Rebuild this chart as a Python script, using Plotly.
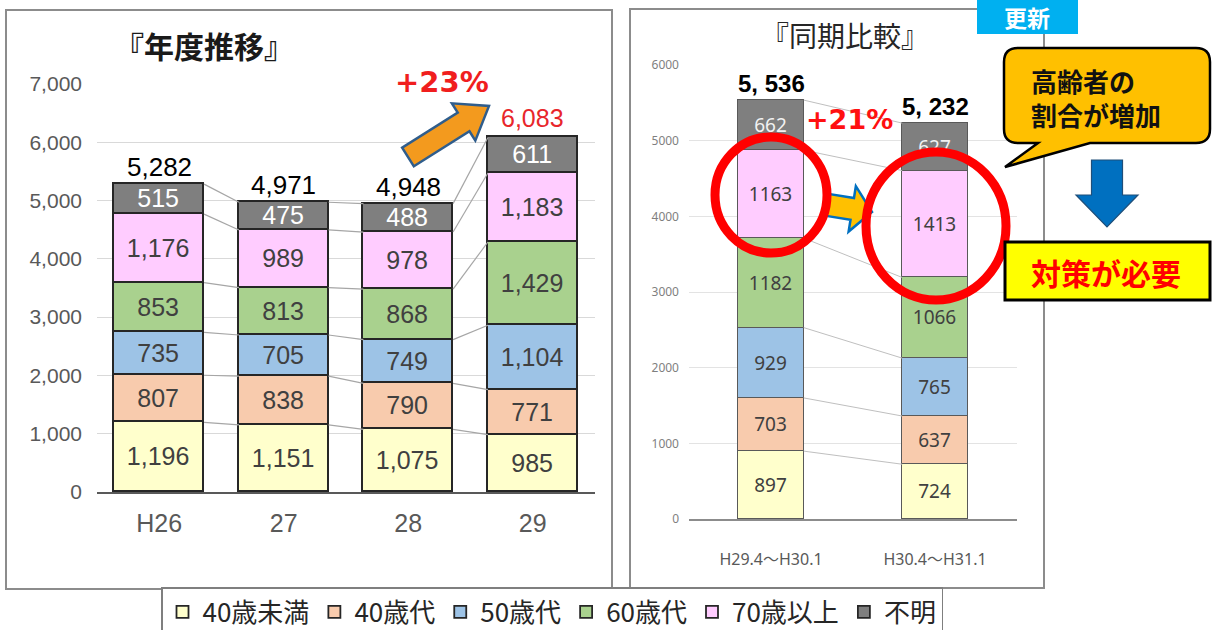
import math
import numpy as np
import plotly.graph_objects as go

W, H = 1215, 630

# ---------------- data ----------------
groups = ["40歳未満", "40歳代", "50歳代", "60歳代", "70歳以上", "不明"]
colors = ["#ffffcc", "#f8cbad", "#9dc3e6", "#a9d18e", "#ffccff", "#7f7f7f"]

years = ["H26", "27", "28", "29"]
y_u40 = [1196, 1151, 1075, 985]
y_40s = [807, 838, 790, 771]
y_50s = [735, 705, 749, 1104]
y_60s = [853, 813, 868, 1429]
y_70p = [1176, 989, 978, 1183]
y_unk = [515, 475, 488, 611]

periods = ["H29.4～H30.1", "H30.4～H31.1"]
p_u40 = [897, 724]
p_40s = [703, 637]
p_50s = [929, 765]
p_60s = [1182, 1066]
p_70p = [1163, 1413]
p_unk = [662, 627]

left_ticks = [0, 1000, 2000, 3000, 4000, 5000, 6000, 7000]
right_ticks = [0, 1000, 2000, 3000, 4000, 5000, 6000]

left_series = [y_u40, y_40s, y_50s, y_60s, y_70p, y_unk]
right_series = [p_u40, p_40s, p_50s, p_60s, p_70p, p_unk]

NUM = "Liberation Sans, Arial, sans-serif"
NARROW = "Liberation Sans Narrow, Liberation Sans, Arial, sans-serif"
JP = "Noto Sans CJK JP, sans-serif"


def px(x):
    return x / W


def py(y):
    return 1 - y / H


fig = go.Figure()

# ---------------- left chart: yearly ----------------
LW = 0.72
for name, col, vals in zip(groups, colors, left_series):
    fig.add_trace(go.Bar(
        x=list(range(len(years))), y=vals, name=name, width=LW,
        marker=dict(color=col, line=dict(color="#262626", width=1.8)),
        texttemplate="%{y:,}", textposition="inside", insidetextanchor="middle",
        constraintext="none", textangle=0,
        insidetextfont=dict(family=NUM, size=25,
                            color="#ffffff" if name == "不明" else "#404040"),
        xaxis="x", yaxis="y", legendgroup=name, showlegend=True,
        hoverinfo="skip",
    ))

cum_left = np.cumsum(np.array(left_series), axis=0)
cx, cy = [], []
for i in range(len(years) - 1):
    for k in range(cum_left.shape[0]):
        cx += [i + LW / 2, i + 1 - LW / 2, None]
        cy += [cum_left[k, i], cum_left[k, i + 1], None]
fig.add_trace(go.Scatter(x=cx, y=cy, mode="lines", line=dict(color="#a6a6a6", width=1.2),
                         xaxis="x", yaxis="y", showlegend=False, hoverinfo="skip"))

# ---------------- right chart: same period ----------------
RW = 0.4
for name, col, vals in zip(groups, colors, right_series):
    fig.add_trace(go.Bar(
        x=list(range(len(periods))), y=vals, name=name, width=RW,
        marker=dict(color=col, line=dict(color="#595959", width=1)),
        texttemplate="%{y}", textposition="inside", insidetextanchor="middle",
        constraintext="none", textangle=0,
        insidetextfont=dict(family="Noto Sans, sans-serif", size=19,
                            color="#f2f2f2" if name == "不明" else "#404040"),
        xaxis="x2", yaxis="y2", legendgroup=name, showlegend=False,
        hoverinfo="skip",
    ))

cum_right = np.cumsum(np.array(right_series), axis=0)
rx, ry = [], []
for i in range(len(periods) - 1):
    for k in range(cum_right.shape[0]):
        rx += [i + RW / 2, i + 1 - RW / 2, None]
        ry += [cum_right[k, i], cum_right[k, i + 1], None]
fig.add_trace(go.Scatter(x=rx, y=ry, mode="lines", line=dict(color="#bfbfbf", width=1),
                         xaxis="x2", yaxis="y2", showlegend=False, hoverinfo="skip"))

annotations = []
# totals left
left_tot = cum_left[-1]
for i, t in enumerate(left_tot):
    last = i == len(left_tot) - 1
    annotations.append(dict(
        x=i, y=int(t), xref="x", yref="y", text=f"{int(t):,}", showarrow=False,
        xanchor="center", yanchor="bottom", yshift=0 if not last else 3,
        font=dict(family=NUM, size=26 if not last else 25,
                  color="#e8262b" if last else "#000000")))
# totals right
right_tot = cum_right[-1]
for i, t in enumerate(right_tot):
    annotations.append(dict(
        x=i, y=int(t), xref="x2", yref="y2",
        text="<b>" + f"{int(t):,}".replace(",", ", ") + "</b>", showarrow=False,
        xanchor="center", yanchor="bottom", yshift=1,
        font=dict(family=NARROW, size=24, color="#000000")))


def note(x, y, text, size, color, family=JP, xanchor="center", align="center"):
    return dict(x=px(x), y=py(y), xref="paper", yref="paper", text=text, showarrow=False,
                xanchor=xanchor, yanchor="middle", align=align,
                font=dict(family=family, size=size, color=color))


annotations += [
    note(204, 45, "<b>『年度推移』</b>", 30, "#1a1a1a"),
    note(845, 35, "『同期比較』", 28, "#262626"),
    note(442, 82, "<b>+23%</b>", 29, "#f01e1e", family="DejaVu Sans, sans-serif"),
    note(849, 119, "<b>+21%</b>", 27, "#ff1010", family="DejaVu Sans, sans-serif"),
    note(1027, 17, "<b>更新</b>", 23, "#ffffff"),
    note(1029, 97, "<b>高齢者の<br>割合が増加</b>", 26, "#111111", xanchor="left", align="left"),
    note(1106, 272, "<b>対策が必要</b>", 30, "#ff0000"),
]


def arrow_path(x0, y0, x1, y1, sw, hw, hl):
    dx, dy = x1 - x0, y1 - y0
    L = math.hypot(dx, dy)
    ux, uy = dx / L, dy / L
    nx, ny = -uy, ux
    bx, by = x1 - ux * hl, y1 - uy * hl
    pts = [(x0 + nx * sw, y0 + ny * sw), (bx + nx * sw, by + ny * sw),
           (bx + nx * hw, by + ny * hw), (x1, y1),
           (bx - nx * hw, by - ny * hw), (bx - nx * sw, by - ny * sw),
           (x0 - nx * sw, y0 - ny * sw)]
    return "M " + " L ".join(f"{px(a):.5f},{py(b):.5f}" for a, b in pts) + " Z"


def P(x, y):
    return f"{px(x):.5f},{py(y):.5f}"


bubble = ("M " + P(1018, 48) + " L " + P(1196, 48) + " Q " + P(1210, 48) + " " + P(1210, 62) +
          " L " + P(1210, 129) + " Q " + P(1210, 143) + " " + P(1196, 143) +
          " L " + P(1090, 143) + " L " + P(1005, 167) + " L " + P(1038, 143) +
          " L " + P(1018, 143) + " Q " + P(1004, 143) + " " + P(1004, 129) +
          " L " + P(1004, 62) + " Q " + P(1004, 48) + " " + P(1018, 48) + " Z")

shapes = [
    # panel frames
    dict(type="rect", xref="paper", yref="paper", x0=px(6), x1=px(612), y0=py(589), y1=py(10),
         line=dict(color="#8c8c8c", width=2), layer="below"),
    dict(type="rect", xref="paper", yref="paper", x0=px(630), x1=px(1044), y0=py(588), y1=py(9),
         line=dict(color="#8c8c8c", width=2), layer="below"),
    # orange trend arrow
    dict(type="path", xref="paper", yref="paper", path=arrow_path(408, 157, 489, 106, 11, 22, 30),
         fillcolor="#f39a1e", line=dict(color="#2f5d8c", width=2.5)),
    # small arrow between circles
    dict(type="path", xref="paper", yref="paper", path=arrow_path(828, 205, 872, 212, 11, 23, 20),
         fillcolor="#ffc000", line=dict(color="#0070c0", width=2.5)),
    # red circles
    dict(type="circle", xref="paper", yref="paper", x0=px(771 - 56), x1=px(771 + 56),
         y0=py(195 + 58), y1=py(195 - 58), line=dict(color="#ff0000", width=9)),
    dict(type="circle", xref="paper", yref="paper", x0=px(936 - 70), x1=px(936 + 70),
         y0=py(226 + 74), y1=py(226 - 74), line=dict(color="#ff0000", width=9)),
    # update badge
    dict(type="rect", xref="paper", yref="paper", x0=px(977), x1=px(1078), y0=py(34), y1=py(0),
         fillcolor="#00b0f0", line=dict(width=0)),
    # speech bubble
    dict(type="path", xref="paper", yref="paper", path=bubble,
         fillcolor="#ffc000", line=dict(color="#000000", width=2.5)),
    # blue down arrow
    dict(type="path", xref="paper", yref="paper", path=arrow_path(1107, 160, 1107, 227, 15.5, 31, 32),
         fillcolor="#0070c0", line=dict(color="#1f4e79", width=1.2)),
    # yellow box
    dict(type="rect", xref="paper", yref="paper", x0=px(1005), x1=px(1210), y0=py(300), y1=py(242),
         fillcolor="#ffff00", line=dict(color="#000000", width=3)),
]

fig.update_layout(
    width=W, height=H, margin=dict(l=0, r=0, t=0, b=0, autoexpand=False),
    paper_bgcolor="white", plot_bgcolor="white",
    barmode="stack", bargap=0,
    xaxis=dict(domain=[px(97), px(595)], range=[-0.5, 3.5], tickvals=list(range(len(years))),
               ticktext=years, showgrid=False, zeroline=False, showline=True,
               linecolor="#595959", linewidth=2, ticks="", ticklabelstandoff=8,
               tickfont=dict(family=NARROW, size=25, color="#595959"), fixedrange=True),
    yaxis=dict(domain=[py(492), py(84)], range=[0, 7000], tickvals=left_ticks,
               tickformat=",", showgrid=True, gridcolor="#d9d9d9", gridwidth=1,
               zeroline=False, showline=False, ticks="", ticklabelstandoff=14,
               tickfont=dict(family=NARROW, size=21, color="#595959"), fixedrange=True),
    xaxis2=dict(domain=[px(689), px(1017)], range=[-0.5, 1.5], tickvals=list(range(len(periods))),
                ticktext=periods, showgrid=False, zeroline=False, showline=True,
                linecolor="#8c8c8c", linewidth=1.5, ticks="", ticklabelstandoff=25,
                tickfont=dict(family="Noto Sans, " + JP, size=16, color="#595959"),
                anchor="y2", fixedrange=True),
    yaxis2=dict(domain=[py(519), py(65)], range=[0, 6000], tickvals=right_ticks,
                tickformat="d", showgrid=True, gridcolor="#e3e3e3", gridwidth=1,
                zeroline=False, showline=False, ticks="", ticklabelstandoff=9,
                tickfont=dict(family="Noto Sans, sans-serif", size=12, color="#7f7f7f"),
                anchor="x2", fixedrange=True),
    legend=dict(orientation="h", x=px(552), xanchor="center", y=py(587), yanchor="top",
                font=dict(family=JP, size=26, color="#262626"),
                bordercolor="#7f7f7f", borderwidth=1.5, bgcolor="white",
                itemwidth=30, traceorder="normal"),
    annotations=annotations, shapes=shapes, showlegend=True,
)

fig.write_html("out.html")
